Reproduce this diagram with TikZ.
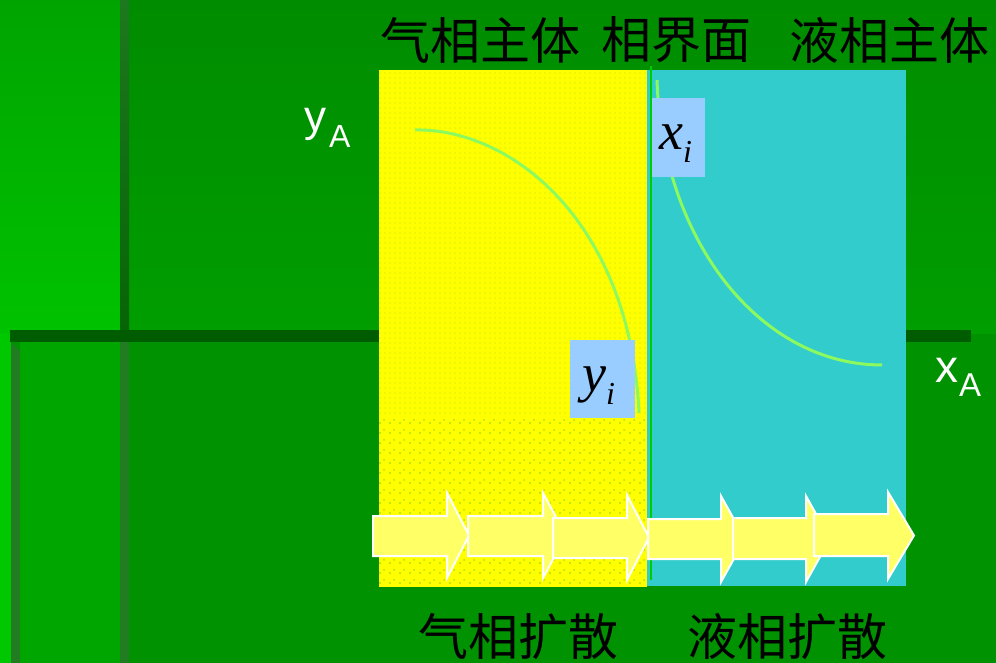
\documentclass[tikz,border=0pt]{standalone}
\usepackage{fontspec}
\newfontfamily\cjk{Noto Sans CJK SC}
\newfontfamily\arl{Liberation Sans}
\newfontfamily\tnr{Liberation Serif}
\usetikzlibrary{patterns.meta}
\definecolor{bgmain}{RGB}{0,146,0}
\definecolor{bgtop}{RGB}{0,140,0}
\definecolor{bgmid}{RGB}{0,158,0}
\definecolor{bgleftT}{RGB}{0,164,0}
\definecolor{bgleftB}{RGB}{0,194,0}
\definecolor{bgleftlow}{RGB}{0,166,0}
\definecolor{bgedge}{RGB}{0,200,0}
\definecolor{barH}{RGB}{0,92,0}
\definecolor{barVt}{RGB}{30,120,30}
\definecolor{barVb}{RGB}{6,100,6}
\definecolor{barVlow}{RGB}{34,124,34}
\definecolor{gasY}{RGB}{255,255,0}
\definecolor{dotc}{RGB}{178,222,20}
\definecolor{liqC}{RGB}{51,204,204}
\definecolor{ifline}{RGB}{0,204,0}
\definecolor{curvec}{RGB}{140,250,95}
\definecolor{labbox}{RGB}{153,204,255}
\definecolor{arrfill}{RGB}{255,255,102}
\tikzset{
  blockarr/.style={fill=arrfill,draw=white,line width=2pt,line join=miter},
  conc/.style={draw=curvec,line width=3pt},
  cjktext/.style={inner sep=0pt,font=\cjk\fontsize{50}{50}\selectfont},
  axislab/.style={inner sep=0pt,text=white,anchor=base west},
  boxlab/.style={fill=labbox,inner sep=0pt}
}
\begin{document}
\begin{tikzpicture}[x=1pt,y=-1pt]
\useasboundingbox (0,0) rectangle (996,663);
% background
\fill[bgmain] (0,0) rectangle (996,663);
\shade[top color=bgtop,bottom color=bgmid] (129,0) rectangle (996,333);
\shade[top color=bgleftT,bottom color=bgleftB] (0,0) rectangle (120,333);
\fill[bgedge] (0,333) rectangle (11,663);
\fill[bgleftlow] (20,342) rectangle (120,663);
% bars
\shade[top color=barVt,bottom color=barVb] (120,0) rectangle (129,330);
\fill[barVlow] (120,342) rectangle (129,663);
\fill[barH] (10,330) rectangle (971,342);
\fill[barVlow] (11,342) -- (20,351) -- (20,663) -- (11,663) -- cycle;
% phases
\fill[gasY] (379,70) rectangle (647,587);
\fill[pattern={Dots[distance=5pt,radius=0.6pt]},pattern color=dotc] (379,70) rectangle (647,415);
\fill[pattern={Dots[distance=10pt,radius=1.2pt]},pattern color=dotc] (379,415) rectangle (647,587);
\fill[pattern={Dots[distance=10pt,radius=1pt,xshift=4pt,yshift=3pt]},pattern color=dotc] (379,415) rectangle (647,587);
\fill[liqC] (647,70) rectangle (906,586);
\draw[ifline,line width=2.2pt] (651,66) -- (651,580);
% concentration curves
\draw[conc] (415,130) .. controls (510,128) and (630,220) .. (639,413);
\draw[conc] (657,80) .. controls (662,240) and (760,365) .. (882,365);
% labels on boxes
\node[boxlab,minimum width=65pt,minimum height=78pt] (yi) at (602.5,379) {};
\node[inner sep=0pt,anchor=base west] (yit) at (582,391) {\tnr\itshape\fontsize{54}{54}\selectfont y\raisebox{-13pt}{\fontsize{32}{32}\selectfont i}};
\node[boxlab,minimum width=53pt,minimum height=79pt] (xi) at (678.5,137.5) {};
\node[inner sep=0pt,anchor=base west] (xit) at (659,150) {\tnr\itshape\fontsize{54}{54}\selectfont x\raisebox{-13pt}{\fontsize{32}{32}\selectfont i}};
% axis labels
\node[axislab,font=\arl\fontsize{44}{44}\selectfont] (yA) at (304,132) {y};
\node[axislab,font=\arl\fontsize{32}{32}\selectfont] (yAs) at (329,148) {A};
\node[axislab,font=\arl\fontsize{46}{46}\selectfont] (xA) at (935,382) {x};
\node[axislab,font=\arl\fontsize{33}{33}\selectfont] (xAs) at (959,396.7) {A};
% diffusion arrows
\draw[blockarr] (373,516) -- (447,516) -- (447,493) -- (469,535.5) -- (447,578) -- (447,556) -- (373,556) -- cycle;
\draw[blockarr] (468,516) -- (543,516) -- (543,493) -- (566,535.5) -- (543,578) -- (543,556) -- (468,556) -- cycle;
\draw[blockarr] (553,518) -- (627,518) -- (627,495) -- (649,537.5) -- (627,580) -- (627,558) -- (553,558) -- cycle;
\draw[blockarr] (648,519) -- (721,519) -- (721,496) -- (745,539) -- (721,582) -- (721,559) -- (648,559) -- cycle;
\draw[blockarr] (733,518) -- (806,518) -- (806,496) -- (830,539) -- (806,582) -- (806,559) -- (733,559) -- cycle;
\draw[blockarr] (814,514) -- (888,514) -- (888,492) -- (914,535.5) -- (888,579) -- (888,556) -- (814,556) -- cycle;
% headings
\node[cjktext] (gbulk) at (480,40) {气相主体};
\node[cjktext] (iface) at (676,40) {相界面};
\node[cjktext] (lbulk) at (889,40) {液相主体};
\node[cjktext] (gdiff) at (518,637) {气相扩散};
\node[cjktext] (ldiff) at (787,637) {液相扩散};
\end{tikzpicture}
\end{document}
